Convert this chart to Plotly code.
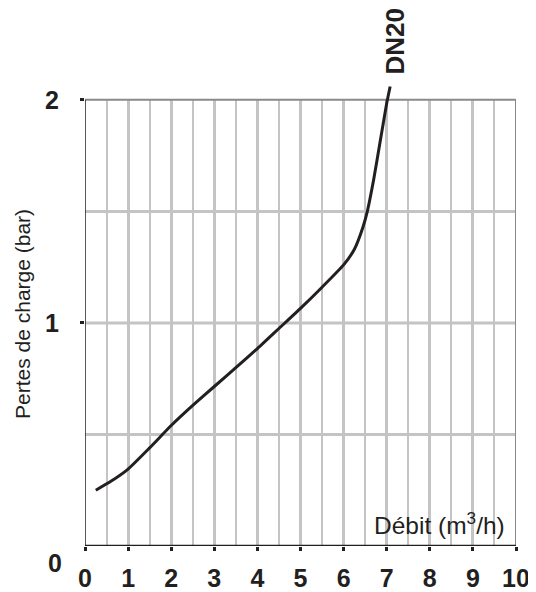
import plotly.graph_objects as go

# Data
debit = [0.25, 0.6, 1.0, 1.5, 2.0, 2.5, 3.0, 3.5, 4.0, 4.5, 5.0, 5.5, 6.0, 6.25,
         6.45, 6.55, 6.7, 6.85, 7.0, 7.08]
pertes = [0.25, 0.29, 0.345, 0.44, 0.54, 0.63, 0.715, 0.80, 0.885, 0.975, 1.065, 1.16, 1.26, 1.33,
          1.43, 1.50, 1.645, 1.815, 1.985, 2.06]
x_ticks = [0, 1, 2, 3, 4, 5, 6, 7, 8, 9, 10]
y_ticks = [1, 2]
y_zero_label = "0"
series_name = "DN20"
x_title = "Débit (m<sup>3</sup>/h)"
y_title = "Pertes de charge (bar)"

FONT = "Liberation Sans, Arial, Helvetica, sans-serif"
INK = "#231f20"
GRID = "#c4c4c4"
BORDER = "#8a8a8a"

fig = go.Figure()
fig.add_trace(go.Scatter(
    x=debit, y=pertes, mode="lines", name=series_name,
    line=dict(color=INK, width=3, shape="spline", smoothing=0.5),
    hoverinfo="skip", showlegend=False,
))

# the page has an 8px body margin, so the figure is sized to fit the window
fig.update_layout(
    width=528, height=584,
    margin=dict(l=77, r=20, t=74, b=46, autoexpand=False),
    paper_bgcolor="white", plot_bgcolor="white",
    font=dict(family=FONT, color=INK),
    showlegend=False,
    xaxis=dict(
        range=[0, 10], tickvals=x_ticks, ticktext=[str(v) for v in x_ticks],
        showgrid=True, gridcolor=GRID, gridwidth=3,
        minor=dict(dtick=0.5, showgrid=True, gridcolor=GRID, gridwidth=1.5, ticks=""),
        showline=False, zeroline=False, automargin=False,
        ticks="outside", ticklen=4, tickwidth=2.5, tickcolor=INK,
        tickfont=dict(size=25, family=FONT, color=INK, weight="bold"),
        ticklabelstandoff=6,
        fixedrange=True,
    ),
    yaxis=dict(
        range=[0, 2.08], tickvals=y_ticks, ticktext=[str(v) for v in y_ticks],
        showgrid=False,
        showline=False, zeroline=False, automargin=False,
        ticks="outside", ticklen=4, tickwidth=2.5, tickcolor=INK,
        tickfont=dict(size=25, family=FONT, color=INK, weight="bold"),
        ticklabelstandoff=16,
        fixedrange=True,
    ),
)

# horizontal gridlines at 0.5 steps
for gy in [0.5, 1.0, 1.5]:
    fig.add_shape(type="line", xref="x", yref="y", x0=0, x1=10, y0=gy, y1=gy,
                  line=dict(color=GRID, width=3), layer="between")

# hide gridlines above the top of the frame
fig.add_shape(type="rect", xref="x", yref="y", x0=-0.05, x1=10.1, y0=2.0, y1=2.1,
              line=dict(width=0), fillcolor="white", layer="between")

# frame: grey top and right, black left and bottom
fig.add_shape(type="line", xref="x", yref="y", x0=0, x1=10, y0=2, y1=2,
              line=dict(color=BORDER, width=2), layer="between")
fig.add_shape(type="line", xref="x", yref="y", x0=10, x1=10, y0=0, y1=2,
              line=dict(color=BORDER, width=2), layer="between")
fig.add_shape(type="line", xref="x", yref="y", x0=0, x1=0, y0=0, y1=2,
              line=dict(color=INK, width=1.5), layer="above")
fig.add_shape(type="line", xref="x", yref="y", x0=-0.09, x1=10, y0=0, y1=0,
              line=dict(color=INK, width=2.5), layer="above")

# y tick label "0" sits lower than the axis
fig.add_annotation(x=0, y=0, xref="paper", yref="y", text=y_zero_label, showarrow=False,
                   xanchor="right", yanchor="middle", xshift=-21, yshift=-17,
                   font=dict(size=25, family=FONT, color=INK, weight="bold"))

# x-axis title inside plot, bottom right
fig.add_annotation(x=10, y=0.1, xref="x", yref="y", text=x_title, showarrow=False,
                   xanchor="right", yanchor="middle", xshift=-9,
                   font=dict(size=24.5, family=FONT, color=INK))

# y-axis title
fig.add_annotation(x=0, y=1.04, xref="paper", yref="y", text=y_title, showarrow=False,
                   textangle=-90, xanchor="center", yanchor="middle", xshift=-63,
                   font=dict(size=21, family=FONT, color=INK))

# series label
fig.add_annotation(x=debit[-1], y=2.06, xref="x", yref="y", text=series_name, showarrow=False,
                   textangle=-90, xanchor="center", yanchor="bottom", xshift=5, yshift=10,
                   font=dict(size=26, family=FONT, color=INK, weight="bold"))

fig.write_html("out.html")
